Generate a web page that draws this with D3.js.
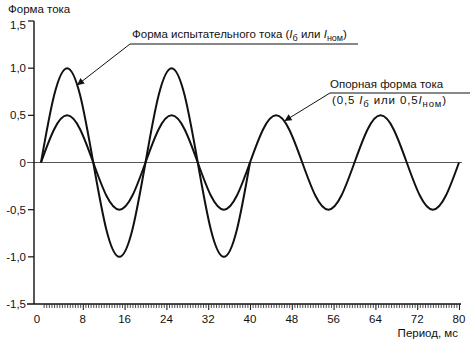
<!DOCTYPE html>
<html>
<head>
<meta charset="utf-8">
<script src="https://cdn.jsdelivr.net/npm/d3@7"></script>
<style>
  html, body { margin: 0; padding: 0; background: #fff; }
  svg text { font-family: "Liberation Sans", Arial, sans-serif; fill: #111; }
</style>
</head>
<body>
<svg id="chart" width="475" height="346"></svg>
<script>
// Time samples (ms) and current values (relative units)
const testTime = [0, 2.5, 5, 7.5, 10, 12.5, 15, 17.5, 20, 22.5, 25, 27.5, 30, 32.5, 35, 37.5, 40];
const testCurrent = [0, 0.71, 1.0, 0.71, 0, -0.71, -1.0, -0.71, 0, 0.71, 1.0, 0.71, 0, -0.71, -1.0, -0.71, 0];

const refTime = [0, 2.5, 5, 7.5, 10, 12.5, 15, 17.5, 20, 22.5, 25, 27.5, 30, 32.5, 35, 37.5, 40,
                 42.5, 45, 47.5, 50, 52.5, 55, 57.5, 60, 62.5, 65, 67.5, 70, 72.5, 75, 77.5, 80];
const refCurrent = [0, 0.35, 0.5, 0.35, 0, -0.35, -0.5, -0.35, 0, 0.35, 0.5, 0.35, 0, -0.35, -0.5, -0.35, 0,
                    0.35, 0.5, 0.35, 0, -0.35, -0.5, -0.35, 0, 0.35, 0.5, 0.35, 0, -0.35, -0.5, -0.35, 0];

const xTickValues = [0, 8, 16, 24, 32, 40, 48, 56, 64, 72, 80];
const yTickValues = [-1.5, -1.0, -0.5, 0, 0.5, 1.0, 1.5];
const yTickLabels = ["-1,5", "-1,0", "-0,5", "0", "0,5", "1,0", "1,5"];

const svg = d3.select("#chart");

const x = d3.scaleLinear().domain([0, 80]).range([41, 459]);
const y = d3.scaleLinear().domain([-1.5, 1.5]).range([304, 21]);
const axisX = 34;

// Zero reference line
svg.append("line")
  .attr("x1", 27).attr("x2", 462)
  .attr("y1", y(0)).attr("y2", y(0))
  .attr("stroke", "#555").attr("stroke-width", 1);

// Y axis
svg.append("line")
  .attr("x1", axisX).attr("x2", axisX)
  .attr("y1", y(1.5)).attr("y2", y(-1.5))
  .attr("stroke", "#111").attr("stroke-width", 1.4);

yTickValues.forEach((v, i) => {
  if (v !== 0 && v !== -1.5) {
    svg.append("line")
      .attr("x1", 28).attr("x2", axisX)
      .attr("y1", y(v)).attr("y2", y(v))
      .attr("stroke", "#111").attr("stroke-width", 1.2);
  }
  svg.append("text")
    .attr("x", 26).attr("y", y(v) + (v === 1.5 ? 8 : 4))
    .attr("text-anchor", "end")
    .attr("font-size", 11.5)
    .text(yTickLabels[i]);
});

// X axis with dense minor ticks
svg.append("line")
  .attr("x1", 27).attr("x2", 461)
  .attr("y1", y(-1.5)).attr("y2", y(-1.5))
  .attr("stroke", "#111").attr("stroke-width", 1.4);

const xAxis = d3.axisBottom(x)
  .tickValues(d3.range(0.5, 80.01, 0.5))
  .tickSize(4)
  .tickFormat("");
const gx = svg.append("g")
  .attr("transform", `translate(0,${y(-1.5)})`)
  .call(xAxis);
gx.select(".domain").remove();
gx.selectAll(".tick line").attr("stroke", "#222").attr("stroke-width", 0.8);
gx.selectAll(".tick").filter(d => xTickValues.includes(d))
  .select("line").attr("y2", 6).attr("stroke-width", 1.1);

svg.selectAll(".xlab").data(xTickValues).enter().append("text")
  .attr("class", "xlab")
  .attr("x", d => d === 0 ? x(d) - 4 : x(d))
  .attr("y", 323)
  .attr("text-anchor", "middle")
  .attr("font-size", 11.5)
  .text(d => d);

svg.append("text")
  .attr("x", 458).attr("y", 337)
  .attr("text-anchor", "end")
  .attr("font-size", 11.5)
  .text("Период, мс");

svg.append("text")
  .attr("x", 8).attr("y", 13)
  .attr("font-size", 11.5)
  .text("Форма тока");

// Curves
const line = d3.line()
  .x(d => x(d[0]))
  .y(d => y(d[1]))
  .curve(d3.curveNatural);

svg.append("path")
  .datum(refTime.map((t, i) => [t, refCurrent[i]]))
  .attr("d", line)
  .attr("fill", "none").attr("stroke", "#111").attr("stroke-width", 2);

svg.append("path")
  .datum(testTime.map((t, i) => [t, testCurrent[i]]))
  .attr("d", line)
  .attr("fill", "none").attr("stroke", "#111").attr("stroke-width", 2);

// Arrowhead marker
svg.append("defs").append("marker")
  .attr("id", "arrow")
  .attr("viewBox", "0 0 10 10")
  .attr("refX", 10).attr("refY", 5)
  .attr("markerWidth", 9).attr("markerHeight", 7)
  .attr("markerUnits", "userSpaceOnUse")
  .attr("orient", "auto")
  .append("path").attr("d", "M0,0 L10,5 L0,10 z").attr("fill", "#111");

// Callout: test current
const t1 = svg.append("text").attr("x", 132).attr("y", 38).attr("font-size", 11.5);
t1.append("tspan").text("Форма испытательного тока (");
t1.append("tspan").attr("font-style", "italic").text("I");
t1.append("tspan").attr("font-size", 9).attr("dy", 3).text("б");
t1.append("tspan").attr("dy", -3).text(" или ");
t1.append("tspan").attr("font-style", "italic").text("I");
t1.append("tspan").attr("font-size", 9).attr("dy", 3).text("ном");
t1.append("tspan").attr("dy", -3).text(")");

svg.append("polyline")
  .attr("points", `358,44 130,44 ${x(6.9)},${y(0.82)}`)
  .attr("fill", "none").attr("stroke", "#111").attr("stroke-width", 1)
  .attr("marker-end", "url(#arrow)");

// Callout: reference current
svg.append("text").attr("x", 330).attr("y", 88).attr("font-size", 11.5)
  .text("Опорная форма тока");
const t2 = svg.append("text").attr("x", 332).attr("y", 104).attr("font-size", 11.5)
  .attr("textLength", 114).attr("lengthAdjust", "spacing");
t2.append("tspan").text("(0,5 ");
t2.append("tspan").attr("font-style", "italic").text("I");
t2.append("tspan").attr("font-size", 9.5).attr("dy", 3).text("б");
t2.append("tspan").attr("dy", -3).text(" или 0,5");
t2.append("tspan").attr("font-style", "italic").text("I");
t2.append("tspan").attr("font-size", 9.5).attr("dy", 3).text("ном");
t2.append("tspan").attr("dy", -3).text(")");

svg.append("polyline")
  .attr("points", `470,93 330,93 ${x(46.6)},${y(0.44)}`)
  .attr("fill", "none").attr("stroke", "#111").attr("stroke-width", 1)
  .attr("marker-end", "url(#arrow)");
</script>
</body>
</html>
